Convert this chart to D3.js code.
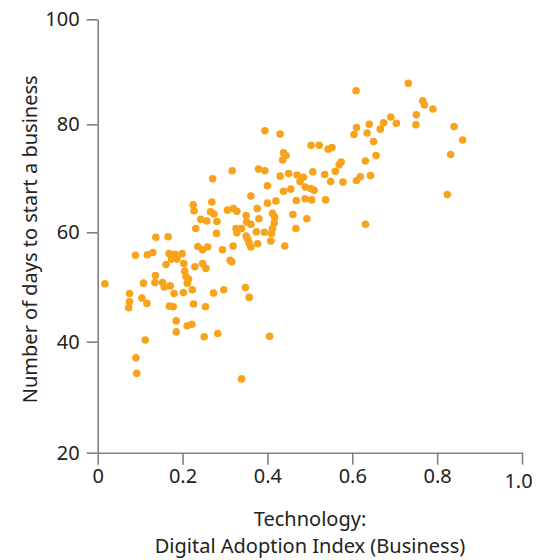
<!DOCTYPE html>
<html>
<head>
<meta charset="utf-8">
<script src="https://cdn.jsdelivr.net/npm/d3@7"></script>
<style>
	body { margin: 0; background: #fff; }
</style>
</head>
<body>
<div id="my_dataviz"></div>
<script>
// Digital Adoption Index (Business), one value per country
var xValues = [
	0.017, 0.073, 0.075, 0.075, 0.089, 0.090, 0.092, 0.104, 0.108, 0.112,
	0.116, 0.117, 0.130, 0.136, 0.135, 0.137, 0.153, 0.157, 0.161, 0.166,
	0.168, 0.169, 0.171, 0.174, 0.178, 0.180, 0.182, 0.185, 0.185, 0.187,
	0.199, 0.202, 0.203, 0.205, 0.208, 0.211, 0.214, 0.211, 0.222, 0.223,
	0.225, 0.227, 0.226, 0.229, 0.231, 0.236, 0.243, 0.247, 0.247, 0.251,
	0.254, 0.255, 0.257, 0.259, 0.269, 0.266, 0.271, 0.273, 0.274, 0.280,
	0.281, 0.283, 0.294, 0.297, 0.306, 0.312, 0.316, 0.317, 0.319, 0.320,
	0.328, 0.326, 0.328, 0.339, 0.339, 0.348, 0.357, 0.350, 0.351, 0.361,
	0.350, 0.354, 0.357, 0.361, 0.361, 0.374, 0.376, 0.377, 0.379, 0.380,
	0.393, 0.394, 0.394, 0.400, 0.400, 0.405, 0.408, 0.412, 0.417, 0.416,
	0.412, 0.410, 0.420, 0.430, 0.430, 0.436, 0.438, 0.444, 0.438, 0.441,
	0.450, 0.455, 0.460, 0.467, 0.468, 0.470, 0.477, 0.485, 0.489, 0.489,
	0.493, 0.502, 0.510, 0.504, 0.507, 0.503, 0.522, 0.543, 0.552, 0.535,
	0.537, 0.549, 0.560, 0.569, 0.574, 0.578, 0.609, 0.610, 0.604, 0.610,
	0.619, 0.631, 0.631, 0.635, 0.640, 0.643, 0.650, 0.656, 0.666, 0.674,
	0.691, 0.704, 0.732, 0.750, 0.751, 0.766, 0.770, 0.790, 0.824, 0.832,
	0.840, 0.860
];

// Number of days to start a business, same order
var yValues = [
	50.6, 46.2, 47.3, 48.8, 55.8, 37.1, 34.3, 48.0, 50.7, 40.3,
	47.0, 55.9, 56.3, 52.1, 50.8, 59.1, 50.8, 50.0, 54.1, 59.2,
	56.1, 46.5, 50.2, 55.1, 46.4, 48.8, 56.0, 43.8, 41.8, 55.1,
	56.1, 49.0, 54.3, 52.9, 51.9, 50.7, 51.4, 42.9, 43.2, 49.5,
	65.1, 64.0, 46.9, 53.7, 60.7, 57.4, 62.4, 56.8, 54.3, 40.9,
	46.4, 53.4, 62.1, 57.3, 65.6, 63.8, 69.9, 48.9, 63.4, 59.8,
	62.0, 41.5, 56.8, 49.5, 64.1, 54.9, 54.6, 71.4, 57.5, 64.4,
	63.9, 60.7, 59.9, 60.7, 33.3, 49.9, 48.1, 63.1, 61.9, 61.5,
	59.3, 58.7, 58.0, 57.3, 66.7, 60.1, 64.4, 57.9, 71.7, 62.5,
	60.0, 71.4, 78.8, 68.6, 65.4, 41.0, 58.4, 63.5, 62.8, 61.7,
	60.7, 59.8, 65.8, 70.4, 78.2, 73.4, 74.7, 74.2, 67.6, 57.5,
	70.9, 68.0, 63.3, 60.7, 65.9, 70.6, 69.4, 70.2, 68.4, 66.2,
	62.5, 68.1, 67.8, 66.0, 71.2, 76.1, 76.1, 75.4, 75.7, 70.7,
	66.0, 69.4, 71.3, 72.5, 73.0, 69.3, 86.4, 79.4, 78.1, 69.6,
	70.3, 73.2, 61.5, 78.4, 80.0, 70.5, 76.8, 74.2, 79.1, 80.3,
	81.4, 80.2, 87.8, 79.9, 81.8, 84.5, 83.7, 82.9, 67.0, 74.4,
	79.6, 77.1
];

var xTicks = [0, 0.2, 0.4, 0.6, 0.8, 1.0];
var xTickLabels = ["0", "0.2", "0.4", "0.6", "0.8", "1.0"];
var yTicks = [20, 40, 60, 80, 100];

var xTitle = ["Technology:", "Digital Adoption Index (Business)"];
var yTitle = "Number of days to start a business";

var font = "'Noto Sans', Lato, sans-serif";
var axisColor = "#808080";
var dotColor = "#f8a31c";

var svg = d3.select("#my_dataviz")
	.append("svg")
	.attr("width", 547)
	.attr("height", 560);

// x scale
var x = d3.scaleLinear()
	.domain([0, 1])
	.range([97.7, 522]);

// y scale, tick spacing in the picture is slightly uneven so it is piecewise
var y = d3.scaleLinear()
	.domain(yTicks)
	.range([452.7, 341.7, 232.3, 124.3, 19.3]);

// y axis
var yAxis = svg.append("g")
	.attr("transform", "translate(" + x(0) + ",0)")
	.call(d3.axisLeft(y)
		.tickValues(yTicks)
		.tickSize(11)
		.tickSizeOuter(0)
		.tickPadding(7));

// x axis
var xAxis = svg.append("g")
	.attr("transform", "translate(0," + y(20) + ")")
	.call(d3.axisBottom(x)
		.tickValues(xTicks)
		.tickSize(12)
		.tickSizeOuter(0)
		.tickPadding(4)
		.tickFormat(function(d, i) { return xTickLabels[i]; }));

// the 1.0 label sits a little lower and left in the original
xAxis.selectAll(".tick text")
	.filter(function(d, i) { return i === xTicks.length - 1; })
	.attr("dy", "0.95em")
	.attr("dx", "-0.2em");

[xAxis, yAxis].forEach(function(g) {
	g.selectAll("path, line")
		.attr("stroke", axisColor)
		.attr("stroke-width", 1.6);
	g.selectAll("text")
		.attr("fill", "#222")
		.style("font-family", font)
		.style("font-size", "20px");
});

// points
svg.append("g")
	.selectAll("circle")
	.data(xValues)
	.enter()
	.append("circle")
	.attr("cx", function(d) { return x(d); })
	.attr("cy", function(d, i) { return y(yValues[i]); })
	.attr("r", 3.8)
	.attr("fill", dotColor);

// y title
svg.append("text")
	.attr("transform", "translate(37," + (y(60) + 7) + ")rotate(-90)")
	.attr("text-anchor", "middle")
	.attr("fill", "#222")
	.style("font-family", font)
	.style("font-size", "20px")
	.text(yTitle);

// x title, two lines
svg.append("text")
	.attr("x", 310)
	.attr("y", 526)
	.attr("text-anchor", "middle")
	.attr("fill", "#222")
	.style("font-family", font)
	.style("font-size", "20px")
	.selectAll("tspan")
	.data(xTitle)
	.enter()
	.append("tspan")
	.attr("x", 310)
	.attr("dy", function(d, i) { return i === 0 ? 0 : 27; })
	.text(function(d) { return d; });
</script>
</body>
</html>
